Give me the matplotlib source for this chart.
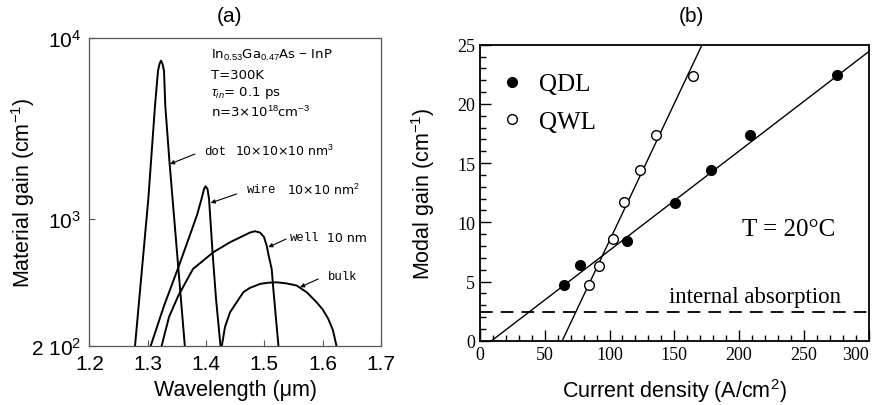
import numpy as np
import matplotlib
matplotlib.use('Agg')
from matplotlib import pyplot as plt
from matplotlib.ticker import FixedLocator, NullLocator, MultipleLocator

plt.rcParams['mathtext.fontset'] = 'custom'
plt.rcParams['mathtext.rm'] = 'Liberation Sans'
plt.rcParams['mathtext.it'] = 'Liberation Sans:italic'

# (a) material gain spectra: wavelength (um) vs gain (cm^-1)
dot_wl = [1.278, 1.3011, 1.3126, 1.3177, 1.3203, 1.3229, 1.3254, 1.328, 1.3302, 1.3374, 1.364]
dot_g = [195, 1294, 4236, 6580, 7200, 7500, 7200, 6580, 4236, 2070, 195]
wire_wl = [1.304, 1.328, 1.3537, 1.3743, 1.3846, 1.3923, 1.3966, 1.3992, 1.4026, 1.4052,
           1.4112, 1.4172, 1.4252]
wire_g = [195, 333, 555, 851, 1056, 1294, 1469, 1520, 1469, 1294, 658, 363, 195]
well_wl = [1.323, 1.3366, 1.3525, 1.3777, 1.4125, 1.4412, 1.4754, 1.484, 1.4926,
           1.4994, 1.5041, 1.5068, 1.5126, 1.5154, 1.520, 1.5245]
well_g = [195, 289, 379, 532, 658, 747, 845, 859, 845, 798, 714, 644, 532, 413, 282, 195]
bulk_wl = [1.4265, 1.4326, 1.4412, 1.464, 1.475, 1.4926, 1.507, 1.5212, 1.538, 1.5555,
           1.573, 1.5898, 1.600, 1.6097, 1.6175, 1.6245]
bulk_g = [195, 255, 307, 396, 418, 440, 447, 449, 443, 431, 395, 348, 318, 282, 245, 195]

# (b) modal gain vs current density
qdl_j = [64.8, 77.3, 113.4, 150.2, 178.7, 208.6, 275.7]
qdl_g = [4.72, 6.4, 8.46, 11.66, 14.4, 17.4, 22.4]
qwl_j = [84.5, 91.9, 102.4, 111.3, 123.6, 135.7, 164.3]
qwl_g = [4.72, 6.32, 8.57, 11.69, 14.4, 17.4, 22.36]
qdl_fit_j = [9, 300]
qdl_fit_g = [0, 24.4]
qwl_fit_j = [63.5, 171.5]
qwl_fit_g = [0, 25]
internal_abs = 2.4
j_ticks = [0, 50, 100, 150, 200, 250, 300]

narrow = ['Liberation Sans Narrow', 'DejaVu Sans']

fig = plt.figure(figsize=(8.76, 4.06), dpi=100)

# ---- panel (a)
ax1 = fig.add_axes([0.10198, 0.14532, 0.33296, 0.75862])
for wl, g in [(dot_wl, dot_g), (wire_wl, wire_g), (well_wl, well_g), (bulk_wl, bulk_g)]:
    ax1.plot(wl, g, color='black', lw=1.4, solid_joinstyle='round')
ax1.set_yscale('log')
ax1.set_xlim(1.2, 1.7)
ax1.set_ylim(200, 1e4)
ax1.xaxis.set_major_locator(FixedLocator([1.2, 1.3, 1.4, 1.5, 1.6, 1.7]))
ax1.set_xticklabels(['1.2', '1.3', '1.4', '1.5', '1.6', '1.7'])
ax1.yaxis.set_major_locator(FixedLocator([200, 1000, 10000]))
ax1.yaxis.set_minor_locator(NullLocator())
ax1.set_yticklabels(['2 10$^2$', '10$^3$', '10$^4$'])
for s in ax1.spines.values():
    s.set_color('#555555')
    s.set_linewidth(0.9)
ax1.tick_params(direction='in', length=4, color='#555555', labelsize=15, pad=6)
for lab in ax1.get_xticklabels() + ax1.get_yticklabels():
    lab.set_family('Liberation Sans')
ax1.set_xlabel('Wavelength (μm)', family='Liberation Sans', fontsize=15.5)
ax1.set_ylabel('Material gain (cm$^{-1}$)', family='Liberation Sans', fontsize=15.5)
ax1.xaxis.set_label_coords(0.5, -0.107)
ax1.yaxis.set_label_coords(-0.179, 0.5)

info = [r'In$_{0.53}$Ga$_{0.47}$As $-$ InP', 'T=300K', r'$\tau_{in}$= 0.1 ps',
        r'n=3×10$^{18}$cm$^{-3}$']
for txt, g in zip(info, [8166, 6323, 5036, 3955]):
    ax1.text(1.408, g, txt, fontsize=9.5, va='center', family='DejaVu Sans')

# curve labels with pointer lines
labels = [('dot', '10×10×10 nm$^3$', 1.3966, 1.45, 2389, (1.381, 2291), (1.3383, 2018)),
          ('wire', '10×10 nm$^2$', 1.4698, 1.5383, 1469, (1.4526, 1380), (1.4081, 1231)),
          ('well', '10 nm', 1.544, 1.608, 796, (1.5372, 778), (1.5068, 702)),
          ('bulk', '', 1.6097, 1.65, 489, (1.5926, 469), (1.5612, 422))]
for word, size, xw, xs, g, p0, p1 in labels:
    ax1.text(xw, g, word, fontsize=8.8, va='center', family='Liberation Mono')
    if size:
        ax1.text(xs, g, size, fontsize=9, va='center', family=narrow)
    ax1.annotate('', xy=p1, xytext=p0,
                 arrowprops=dict(arrowstyle='-|>', lw=0.8, color='black',
                                 mutation_scale=6, shrinkA=0, shrinkB=0))

fig.text(230 / 876, 1 - 17 / 406, '(a)', ha='center', va='center',
         family='Liberation Sans', fontsize=15)

# ---- panel (b)
ax2 = fig.add_axes([0.54795, 0.15837, 0.44349, 0.72906])
ax2.plot(qdl_fit_j, qdl_fit_g, color='black', lw=1.0)
ax2.plot(qwl_fit_j, qwl_fit_g, color='black', lw=1.0)
ax2.axhline(internal_abs, color='black', lw=1.3, linestyle=(0, (7, 4.5)))
ax2.plot(qdl_j, qdl_g, 'o', color='black', ms=7, label='QDL')
ax2.plot(qwl_j, qwl_g, 'o', mfc='white', mec='black', mew=1.0, ms=7, label='QWL')
ax2.set_xlim(0, 300)
ax2.set_ylim(0, 25)
ax2.set_xticks(j_ticks, [str(v) for v in j_ticks])
ax2.xaxis.set_minor_locator(MultipleLocator(10))
ax2.yaxis.set_major_locator(MultipleLocator(5))
ax2.yaxis.set_minor_locator(MultipleLocator(1))
for s in ax2.spines.values():
    s.set_linewidth(1.3)
ax2.tick_params(which='major', direction='in', length=8, width=1.0, labelsize=13)
ax2.tick_params(which='minor', direction='in', length=4.5, width=1.0)
for lab in ax2.get_xticklabels() + ax2.get_yticklabels():
    lab.set_family('Liberation Serif')
ax2.get_xticklabels()[-1].set_ha('right')

ax2.text(145.8, 3.72, 'internal absorption', family='Liberation Serif', fontsize=16.5,
         va='center')
ax2.text(202.6, 9.43, 'T = 20°C', family='Liberation Serif', fontsize=18, va='center')
ax2.legend(loc='upper left', bbox_to_anchor=(0.05, 0.905), frameon=False,
           borderaxespad=0, borderpad=0, handlelength=1.0, handletextpad=0.6,
           labelspacing=0.6, prop={'family': 'Liberation Serif', 'size': 18})

ax2.set_xlabel('Current density (A/cm$^2$)', family='Liberation Sans', fontsize=15.5)
ax2.set_ylabel('Modal gain (cm$^{-1}$)', family='Liberation Sans', fontsize=15.5)
ax2.xaxis.set_label_coords(0.5, -0.119)
ax2.yaxis.set_label_coords(-0.11, 0.5)

fig.text(691 / 876, 1 - 17 / 406, '(b)', ha='center', va='center',
         family='Liberation Sans', fontsize=15)

fig.savefig('out.png', dpi=100)
